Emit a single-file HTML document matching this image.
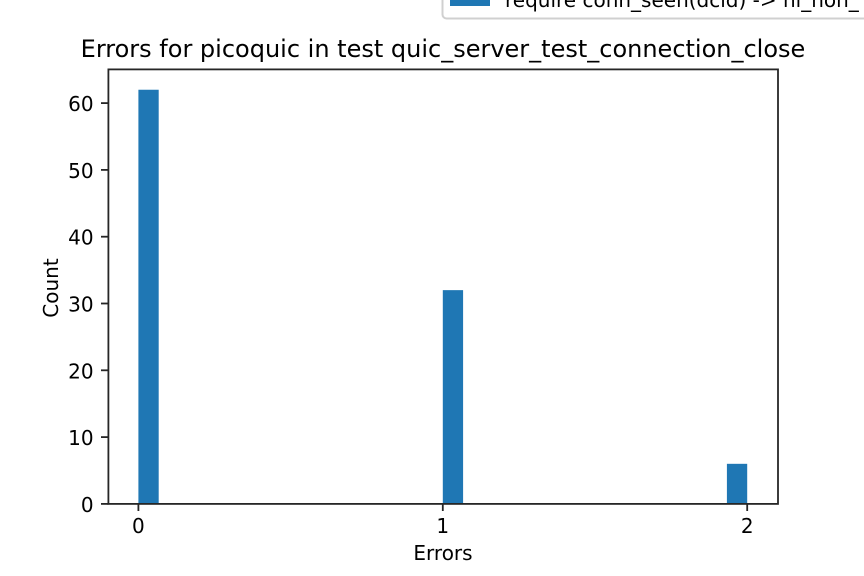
<!DOCTYPE html>
<html>
<head>
<meta charset="utf-8">
<style>
html,body{margin:0;padding:0;background:#fff;width:864px;height:576px;overflow:hidden}
svg{display:block;font-family:"DejaVu Sans","Liberation Sans",sans-serif;fill:#000}
</style>
</head>
<body>
<svg id="chart" xmlns="http://www.w3.org/2000/svg" width="864" height="576" viewBox="0 0 864 576">
  <rect x="0" y="0" width="864" height="576" fill="#fff"/>
  <g id="bars"></g>
  <g id="yticks"></g>
  <g id="xticks"></g>
  <rect x="108.4" y="69.4" width="669.6" height="434.5" fill="none" stroke="#262626" stroke-width="1.8"/>
  <text x="443" y="57" font-size="24" text-anchor="middle">Errors for picoquic in test quic_server_test_connection_close</text>
  <text x="443" y="560" font-size="20" text-anchor="middle">Errors</text>
  <text transform="translate(58,288) rotate(-90)" font-size="20" text-anchor="middle">Count</text>
  <g>
    <rect x="442.5" y="-30" width="460" height="48.5" rx="4" ry="4" fill="#fff" stroke="#d0d0d0" stroke-width="2"/>
    <rect x="450" y="-8" width="40" height="14" fill="#1f77b4"/>
    <text x="505" y="7" font-size="20">require conn_seen(dcid) -&gt; hi_non_</text>
  </g>
</svg>
<script>
const binStarts = [0, 1, 2];
const counts = [62, 32, 6];
const xTickLabels = [0, 1, 2];
const yTickLabels = [0, 10, 20, 30, 40, 50, 60];

const binCount = 30;
const xScale = function (v) { return 138.4 + v * 304.4; };
const yScale = function (v) { return 503.9 - v * 6.68; };
const NS = 'http://www.w3.org/2000/svg';
const barsGroup = document.getElementById('bars');
const xGroup = document.getElementById('xticks');
const yGroup = document.getElementById('yticks');
const xMax = Math.max.apply(null, binStarts);
const xMin = Math.min.apply(null, binStarts);
const binWidth = (xMax - xMin) / binCount;

binStarts.forEach(function (start, i) {
  const left = start === xMax ? start - binWidth : start;
  const r = document.createElementNS(NS, 'rect');
  
  
  r.setAttribute('x', xScale(left));
  r.setAttribute('y', yScale(counts[i]));
  r.setAttribute('width', xScale(left + binWidth) - xScale(left));
  r.setAttribute('height', yScale(0) - yScale(counts[i]));
  r.setAttribute('fill', '#1f77b4');
  barsGroup.appendChild(r);
});

xTickLabels.forEach(function (v) {
  const x = xScale(v);
  const l = document.createElementNS(NS, 'line');
  
  
  l.setAttribute('x1', x);
  l.setAttribute('x2', x);
  l.setAttribute('y1', 503.9);
  l.setAttribute('y2', 511);
  l.setAttribute('stroke', '#262626');
  l.setAttribute('stroke-width', '1.8');
  xGroup.appendChild(l);
  const t = document.createElementNS(NS, 'text');
  
  
  t.setAttribute('x', x);
  t.setAttribute('y', 533);
  t.setAttribute('font-size', '20');
  t.setAttribute('text-anchor', 'middle');
  t.textContent = v;
  xGroup.appendChild(t);
});

yTickLabels.forEach(function (v) {
  const y = yScale(v);
  const l = document.createElementNS(NS, 'line');
  
  
  l.setAttribute('x1', 101);
  l.setAttribute('x2', 108.4);
  l.setAttribute('y1', y);
  l.setAttribute('y2', y);
  l.setAttribute('stroke', '#262626');
  l.setAttribute('stroke-width', '1.8');
  yGroup.appendChild(l);
  const t = document.createElementNS(NS, 'text');
  
  
  t.setAttribute('x', 93.6);
  t.setAttribute('y', y + 8);
  t.setAttribute('font-size', '20');
  t.setAttribute('text-anchor', 'end');
  t.textContent = v;
  yGroup.appendChild(t);
});
</script>
</body>
</html>
